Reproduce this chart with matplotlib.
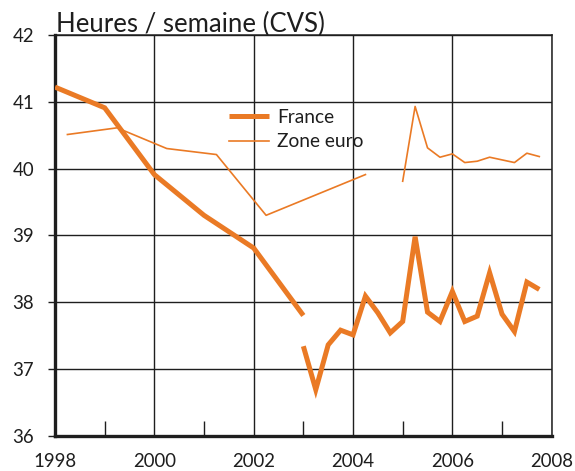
import matplotlib
matplotlib.use("Agg")
import matplotlib.pyplot as plt
from matplotlib.ticker import FixedLocator
from matplotlib.transforms import offset_copy

plt.rcParams['font.family'] = ['Lato', 'DejaVu Sans']

# France: annual series then quarterly series
france_annual_x = [1998, 1999, 2000, 2001, 2002, 2003]
france_annual_y = [41.22, 40.91, 39.91, 39.30, 38.81, 37.80]

france_q_x = [2003.00, 2003.25, 2003.50, 2003.75, 2004.00, 2004.25, 2004.50, 2004.75,
              2005.00, 2005.25, 2005.50, 2005.75, 2006.00, 2006.25, 2006.50, 2006.75,
              2007.00, 2007.25, 2007.50, 2007.75]
france_q_y = [37.34, 36.69, 37.36, 37.58, 37.51, 38.09, 37.84, 37.54,
              37.71, 38.98, 37.85, 37.71, 38.16, 37.71, 37.79, 38.44,
              37.82, 37.56, 38.30, 38.19]

# Zone euro: annual series then quarterly series
euro_annual_x = [1998.25, 1999.25, 2000.25, 2001.25, 2002.25, 2004.25]
euro_annual_y = [40.51, 40.61, 40.30, 40.21, 39.30, 39.91]

euro_q_x = [2005.00, 2005.25, 2005.50, 2005.75, 2006.00, 2006.25, 2006.50, 2006.75,
            2007.00, 2007.25, 2007.50, 2007.75]
euro_q_y = [39.81, 40.93, 40.31, 40.17, 40.22, 40.09, 40.11, 40.17,
            40.13, 40.09, 40.23, 40.18]

x_ticks = [1998, 2000, 2002, 2004, 2006, 2008]
y_ticks = [36, 37, 38, 39, 40, 41, 42]
title = "Heures / semaine (CVS)"
labels = ["France", "Zone euro"]

orange = "#EA7A25"
dark = "#1e1e1e"

fig = plt.figure(figsize=(5.75, 4.71), dpi=100)
ax = fig.add_axes([55/575, 1 - 435.7/471, (551.7 - 55)/575, (435.7 - 35)/471])

l1, = ax.plot(france_annual_x, france_annual_y, color=orange, lw=3.6,
              solid_joinstyle='miter', solid_capstyle='butt', zorder=5)
ax.plot(france_q_x, france_q_y, color=orange, lw=3.6,
        solid_joinstyle='miter', solid_capstyle='butt', zorder=5)
l2, = ax.plot(euro_annual_x, euro_annual_y, color=orange, lw=1.2, zorder=4)
ax.plot(euro_q_x, euro_q_y, color=orange, lw=1.2, zorder=4)

ax.set_xlim(1998, 2008)
ax.set_ylim(36, 42)
ax.xaxis.set_major_locator(FixedLocator(x_ticks))
ax.xaxis.set_minor_locator(FixedLocator([1999, 2001, 2003, 2005, 2007]))
ax.yaxis.set_major_locator(FixedLocator(y_ticks))

ax.grid(True, which='major', color=dark, lw=1.0)
ax.set_axisbelow(True)

ax.tick_params(axis='x', which='major', length=0, pad=12.5, labelsize=13.4, labelcolor=dark)
ax.tick_params(axis='x', which='minor', direction='in', length=11, width=1.0, color=dark)
ax.tick_params(axis='y', which='major', direction='out', length=5, width=1.0, color=dark,
               pad=10, labelsize=13.4, labelcolor=dark)

for side in ['left', 'bottom']:
    ax.spines[side].set_linewidth(2.4)
    ax.spines[side].set_color(dark)
for side in ['top', 'right']:
    ax.spines[side].set_linewidth(1.1)
    ax.spines[side].set_color(dark)

tr = offset_copy(ax.transAxes, fig=fig, x=1.5, y=3.3, units='dots')
ax.text(0.0, 1.0, title, transform=tr, ha='left', va='baseline',
        fontsize=18.5, color=dark)

leg = ax.legend([l1, l2], labels, loc='upper left',
                bbox_to_anchor=(229/575, 1 - 109/471), bbox_transform=fig.transFigure,
                frameon=False, fontsize=13.8, handlelength=2.1, handletextpad=0.42,
                labelspacing=0.38, borderpad=0, borderaxespad=0)
for t in leg.get_texts():
    t.set_color(dark)

fig.savefig("out.png", dpi=100)
